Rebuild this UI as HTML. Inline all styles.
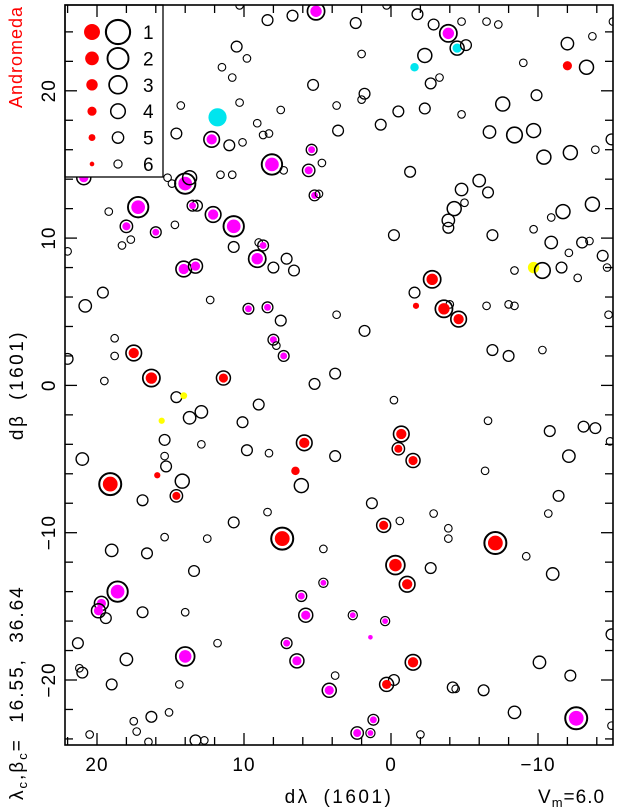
<!DOCTYPE html>
<html><head><meta charset="utf-8"><style>
html,body{margin:0;padding:0;background:#fff;}
svg{display:block;font-family:"Liberation Sans",sans-serif;}
</style></head><body>
<svg id="chart" width="619" height="810" viewBox="0 0 619 810" xmlns="http://www.w3.org/2000/svg">
<defs><clipPath id="plotclip"><rect x="65" y="5" width="548" height="740"/></clipPath></defs>
<g id="stars" clip-path="url(#plotclip)"></g>
<g id="legend"></g>
<g id="axes"></g>
<text transform="translate(22,57) rotate(-90)" text-anchor="middle" font-size="18" letter-spacing="1" fill="#ff0000">Andromeda</text>
<text transform="translate(23,385) rotate(-90)" text-anchor="middle" font-size="19" letter-spacing="2.5" word-spacing="6">dβ (1601)</text>
<text transform="translate(23,800) rotate(-90)" text-anchor="start" font-size="19" letter-spacing="2" word-spacing="8">λ<tspan font-size="13" dy="4">c</tspan><tspan dy="-4">,β</tspan><tspan font-size="13" dy="4">c</tspan><tspan dy="-4">= 16.55, 36.64</tspan></text>
<text x="339" y="803" text-anchor="middle" font-size="19" letter-spacing="2.5" word-spacing="6">dλ (1601)</text>
<text x="538" y="803" font-size="19" letter-spacing="1">V<tspan font-size="13" dy="4">m</tspan><tspan dy="-4">=6.0</tspan></text>
</svg>
<script>
const xTicks=[20,10,0,-10];
const yTicks=[20,10,0,-10,-20];
const legendMags=[1,2,3,4,5,6];
const L=[10.3,8.4,6.7,5.1,10.5,9.8,11.5,10.8,5.3,10.3,14.3,7.5,3.7,11.8,14.6,12.2,11.0,10.1,9.1,8.7,8.3,8.1,7.3,5.4,4.7,5.6,5.2,4.9,3.6,22.3,22.2,20.9,15.2,14.9,14.0,13.7,11.6,10.8,17.2,19.2,18.0,17.7,18.3,16.0,14.7,13.2,13.5,12.1,10.7,10.7,9.0,8.7,
0.3,-1.8,2.4,-2.9,-3.9,-4.8,-6.5,-7.3,-15.1,2.0,-2.3,-1.6,-4.5,-5.1,-9.0,-12.0,-13.3,-12.0,-13.7,-3.3,-2.7,1.8,2.0,-0.5,-2.3,-4.8,0.7,-7.6,-9.9,-6.7,-8.4,-9.7,-10.4,-12.2,-13.9,-15.0,-1.3,-6.0,-4.8,-6.6,-5.0,-4.3,-3.9,-3.9,-0.2,-6.9,-9.7,-10.9,-11.7,-13.7,-10.9,-13.0,-13.5,
22.0,9.1,7.1,8.0,6.6,14.1,13.3,19.6,20.8,12.3,9.7,8.4,7.5,3.7,18.8,18.8,17.5,22.0,8.0,7.8,7.3,19.5,16.3,11.4,3.8,5.2,14.6,14.1,9.0,12.9,13.7,15.6,10.1,15.4,12.9,5.9,9.8,8.3,3.8,21.0,15.4,15.3,15.9,6.5,19.1,14.2,6.1,14.6,16.9,
-12.1,-14.4,-14.7,-9.7,-10.3,-11.6,-12.7,-8.4,-2.8,-1.6,-1.7,-4.0,-3.6,-4.6,-6.5,-8.0,-8.4,-14.8,1.8,-6.9,-8.0,-10.3,-0.2,-6.6,-10.8,-13.1,-13.9,-14.9,-0.7,-0.5,-1.5,-12.1,-6.4,-11.4,1.3,
8.4,10.7,7.4,4.6,15.4,12.5,19.0,16.6,13.4,4.6,18.6,6.1,5.8,19.7,19.9,19.4,16.9,14.0,21.3,11.8,7.1,18.0,14.0,6.4,21.2,21.0,19.0,14.4,3.8,4.2,16.3,15.1,17.5,17.3,20.5,16.5,13.3,12.7,
0.5,-0.6,-2.9,-10.7,-3.9,-3.9,-7.1,-9.2,-0.3,-2.7,-1.1,-11.0,2.6,0.4,1.4,-15.0,-1.5,-10.1,-12.2,-0.2,0.3,-4.2,-4.4,-6.3,-8.4,-12.6,-15.0,1.2,2.3,1.4,-2.0];
const B=[25.8,24.8,25.1,25.4,23.0,22.2,21.6,20.9,20.4,19.2,19.0,18.7,19.0,18.2,17.1,16.7,16.3,16.5,17.8,17.0,17.1,15.0,14.6,16.0,15.1,14.6,12.9,13.0,17.3,22.4,21.1,14.1,14.1,13.7,13.7,14.1,14.3,14.3,12.1,11.8,10.8,9.9,9.5,10.4,10.9,12.2,12.2,11.6,10.8,9.4,9.7,9.5,
25.8,25.2,24.6,24.5,23.9,24.7,24.7,24.5,24.7,22.5,22.4,21.6,22.9,23.1,21.9,21.7,21.6,23.2,23.7,20.9,20.5,19.8,19.4,18.6,18.8,18.4,17.7,19.1,19.7,17.2,17.0,17.3,15.5,15.8,16.0,16.7,14.5,13.9,13.3,13.1,12.4,12.0,11.2,10.7,10.2,10.2,10.6,11.4,11.8,12.3,9.7,9.7,9.8,
9.1,8.6,8.6,8.0,7.8,7.9,8.1,6.3,5.4,5.8,5.2,5.3,4.4,4.8,3.2,2.0,2.2,1.8,3.1,2.7,2.0,0.3,0.5,0.5,0.8,0.1,-0.8,-0.7,-1.3,-1.8,-2.2,-2.4,-2.5,-3.7,-4.0,-3.9,-4.4,-4.6,-4.8,-5.0,-4.8,-5.5,-6.1,-5.8,-6.7,-6.5,-6.8,-7.5,-7.8,
9.0,8.8,8.0,8.0,7.8,8.0,7.3,7.8,7.2,6.3,5.4,5.5,5.2,4.5,5.4,5.5,5.4,4.8,3.7,2.4,2.0,2.4,-1.0,-2.4,-3.1,-2.8,-2.9,-3.8,-3.3,-4.3,-5.1,-4.8,-5.8,-7.5,-8.0,
-8.6,-9.3,-10.4,-11.1,-10.3,-10.4,-11.2,-11.4,-12.6,-13.4,-14.0,-14.3,-15.6,-14.8,-15.3,-15.8,-15.4,-15.4,-17.5,-17.5,-17.5,-18.6,-18.4,-18.7,-19.2,-19.5,-20.3,-20.3,-19.7,-20.7,-22.5,-22.2,-22.8,-23.5,-23.7,-24.2,-24.1,-24.1,
-9.5,-9.2,-8.7,-8.7,-9.7,-10.4,-10.7,-11.6,-12.2,-12.4,-13.5,-12.8,-15.6,-16.0,-17.1,-16.9,-18.8,-18.8,-19.7,-20.0,-20.3,-20.5,-20.6,-20.7,-22.2,-22.6,-23.1,-22.7,-23.6,-23.6,-23.7];
const M=[6,5,5,3,5,6,6,6,5,6,6,6,6,0,5,3.5,5,6,6,6,6,2,6,5,6,4.5,5,6,5,5,5,4,6,6,2,4,6,6,2,6,4.5,6,6,5,6,5,5,3.5,2,5,6,5,
6,5,5,5,3,6,6,6,6,6,4,4.3,4,5,6,4,4,4.5,6,6,5,5,6,5,5,6,5,4,5,4.5,3.5,4,4,4,6,5,5,4.5,4.5,5,6,4,4.5,5,5,5,6,6,4,4,4.5,5,6,
6,3,5,5,5,3.5,4,5,4.5,6,5,5,5,6,6,6,3.5,5,5,6,5,6,3,4,5,5,5,5,5,4.5,4.5,5.3,5,5,6,3.5,5,6,5,4.5,6,5,5.3,4.3,1.5,4,4,4.5,5,
6,5,6,3,3.5,5,6,6,3,5,5.3,6,3,3.5,6,6,6,6,5,5,5,6,6,6,5,5,5,6,3.5,4.5,4,4.5,6,5,5,
6,5,1.5,6,6,6,4.5,5,5,5.5,2,5,4,4,4,5,5,6,5,6,5,4.5,2.5,4,6,5,5,6,6,4,5,6,6,6,6,6,5,6,
4,6,6,6,6,6,1.5,6,2.5,5,3.5,4.5,5.5,5.5,6,5,3.5,4.5,5,5,4,5,6,5,4.5,1.5,6,5,4.5,5.5,6];
const F=['','','','m','','','','','','','','','','C','','m','','','','','','m','','m','','m','m','','','','','m','','','m','','','','m','','m','','','m','','','m','m','m','','','m',
'','','','','m','','','','','','','C','c','','','R','','','','','','','','','','','','','','','','','','','','','','','','','','','','','','','','','','','','','',
'','m','','','','m','m','','','','m','m','','','','','r','','m','','m','','r','r','','','','Y','','','','Y','','','','r','','','','','','','R','R','r','','','r','',
'','','','Y','','','','','r','','R','','r','r','','','','','','','','','','','','','','','r','r','r','','','','',
'','','r','','','','','','','m','m','m','m','m','m','','','','','','m','','m','m','','','','','','m','','','','','','','','',
'r','','','','','','r','','r','','r','','m','m','M','','r','','','','r','','','','','m','','m','m','m',''];
const colors={r:'#ff0000',m:'#ff00ff',c:'#00e5ee',y:'#ffff00'};
const NS='http://www.w3.org/2000/svg';
const X0=65,X1=613,Y0=5,Y1=745;
function xs(l){return 391-14.7*l;}
function ys(b){return 385.4-14.73*b;}
function ringR(m){return 13.4-1.6*m;}
function dotR(m){return 9.1-1.13*m;}
function mk(tag,attrs,parent){const e=document.createElementNS(NS,tag);for(const k in attrs)e.setAttribute(k,attrs[k]);parent.appendChild(e);return e;}
const gS=document.getElementById('stars');
for(let i=0;i<L.length;i++){
  const cx=xs(L[i]),cy=ys(B[i]),m=M[i],f=F[i]||'';
  const g=mk('g',{},gS);
  
  
  const noRing=f&&f===f.toUpperCase();
  if(!noRing){
    const c=mk('circle',{cx:cx,cy:cy,r:ringR(m),fill:'none',stroke:'#000','stroke-width':(1.1+(6-m)*0.2).toFixed(2)},g);
    
    
  }
  if(f){
    const d=mk('circle',{cx:cx,cy:cy,r:dotR(m),fill:colors[f.toLowerCase()]},g);
    
    
  }
}
const gL=document.getElementById('legend');
const box=mk('rect',{x:X0,y:Y0,width:98,height:172,fill:'#fff',stroke:'#000','stroke-width':1.3},gL);


legendMags.forEach((m,i)=>{
  const y=32+i*26.4;
  const d=mk('circle',{cx:92,cy:y,r:dotR(m),fill:'#ff0000'},gL);
  
  
  const c=mk('circle',{cx:118,cy:y,r:ringR(m)+0.3,fill:'none',stroke:'#000','stroke-width':(1.1+(6-m)*0.2).toFixed(2)},gL);
  
  
  const t=mk('text',{x:143,y:y+7,'font-size':19},gL);
  t.textContent=String(m);
  
  
});
const gA=document.getElementById('axes');
const fr=mk('rect',{x:X0,y:Y0,width:X1-X0,height:Y1-Y0,fill:'none',stroke:'#000','stroke-width':1.6},gA);


for(let v=-16;v<=22;v+=2){
  const x=xs(v); if(x<X0+1||x>X1-1)continue;
  const len=(v%10===0)?12:8;
  const t1=mk('line',{x1:x,y1:Y1,x2:x,y2:Y1-len,stroke:'#000','stroke-width':1.3},gA);
  
  
  const t2=mk('line',{x1:x,y1:Y0,x2:x,y2:Y0+len,stroke:'#000','stroke-width':1.3},gA);
  
  
}
for(let v=-24;v<=26;v+=2){
  const y=ys(v); if(y<Y0+1||y>Y1-1)continue;
  const len=(v%10===0)?12:8;
  const t1=mk('line',{x1:X0,y1:y,x2:X0+len,y2:y,stroke:'#000','stroke-width':1.3},gA);
  
  
  const t2=mk('line',{x1:X1,y1:y,x2:X1-len,y2:y,stroke:'#000','stroke-width':1.3},gA);
  
  
}
xTicks.forEach(v=>{
  const t=mk('text',{x:xs(v),y:771,'text-anchor':'middle','font-size':19,'letter-spacing':1},gA);
  t.textContent=v<0?'\u2212'+(-v):String(v);
  
  
});
yTicks.forEach(v=>{
  const t=mk('text',{transform:'translate(55,'+ys(v)+') rotate(-90)','text-anchor':'middle','font-size':19,'letter-spacing':1},gA);
  t.textContent=v<0?'\u2212'+(-v):String(v);
  
  
});
</script>
</body></html>
